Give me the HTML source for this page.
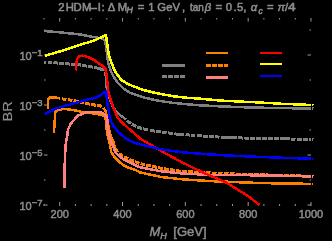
<!DOCTYPE html>
<html><head><meta charset="utf-8"><style>
html,body{margin:0;padding:0;background:#000;width:332px;height:241px;overflow:hidden}
svg{display:block;will-change:transform}
</style></head><body><svg width="332" height="241" viewBox="0 0 332 241"><line x1="44.00" y1="206" x2="44.00" y2="204.0" stroke="#999999" stroke-width="1"/><line x1="44.00" y1="18" x2="44.00" y2="19.5" stroke="#999999" stroke-width="1"/><line x1="59.71" y1="206" x2="59.71" y2="202.0" stroke="#999999" stroke-width="1"/><line x1="59.71" y1="18" x2="59.71" y2="21.5" stroke="#999999" stroke-width="1"/><line x1="75.41" y1="206" x2="75.41" y2="204.0" stroke="#999999" stroke-width="1"/><line x1="75.41" y1="18" x2="75.41" y2="19.5" stroke="#999999" stroke-width="1"/><line x1="91.12" y1="206" x2="91.12" y2="204.0" stroke="#999999" stroke-width="1"/><line x1="91.12" y1="18" x2="91.12" y2="19.5" stroke="#999999" stroke-width="1"/><line x1="106.82" y1="206" x2="106.82" y2="204.0" stroke="#999999" stroke-width="1"/><line x1="106.82" y1="18" x2="106.82" y2="19.5" stroke="#999999" stroke-width="1"/><line x1="122.53" y1="206" x2="122.53" y2="202.0" stroke="#999999" stroke-width="1"/><line x1="122.53" y1="18" x2="122.53" y2="21.5" stroke="#999999" stroke-width="1"/><line x1="138.24" y1="206" x2="138.24" y2="204.0" stroke="#999999" stroke-width="1"/><line x1="138.24" y1="18" x2="138.24" y2="19.5" stroke="#999999" stroke-width="1"/><line x1="153.94" y1="206" x2="153.94" y2="204.0" stroke="#999999" stroke-width="1"/><line x1="153.94" y1="18" x2="153.94" y2="19.5" stroke="#999999" stroke-width="1"/><line x1="169.65" y1="206" x2="169.65" y2="204.0" stroke="#999999" stroke-width="1"/><line x1="169.65" y1="18" x2="169.65" y2="19.5" stroke="#999999" stroke-width="1"/><line x1="185.35" y1="206" x2="185.35" y2="202.0" stroke="#999999" stroke-width="1"/><line x1="185.35" y1="18" x2="185.35" y2="21.5" stroke="#999999" stroke-width="1"/><line x1="201.06" y1="206" x2="201.06" y2="204.0" stroke="#999999" stroke-width="1"/><line x1="201.06" y1="18" x2="201.06" y2="19.5" stroke="#999999" stroke-width="1"/><line x1="216.76" y1="206" x2="216.76" y2="204.0" stroke="#999999" stroke-width="1"/><line x1="216.76" y1="18" x2="216.76" y2="19.5" stroke="#999999" stroke-width="1"/><line x1="232.47" y1="206" x2="232.47" y2="204.0" stroke="#999999" stroke-width="1"/><line x1="232.47" y1="18" x2="232.47" y2="19.5" stroke="#999999" stroke-width="1"/><line x1="248.18" y1="206" x2="248.18" y2="202.0" stroke="#999999" stroke-width="1"/><line x1="248.18" y1="18" x2="248.18" y2="21.5" stroke="#999999" stroke-width="1"/><line x1="263.88" y1="206" x2="263.88" y2="204.0" stroke="#999999" stroke-width="1"/><line x1="263.88" y1="18" x2="263.88" y2="19.5" stroke="#999999" stroke-width="1"/><line x1="279.59" y1="206" x2="279.59" y2="204.0" stroke="#999999" stroke-width="1"/><line x1="279.59" y1="18" x2="279.59" y2="19.5" stroke="#999999" stroke-width="1"/><line x1="295.29" y1="206" x2="295.29" y2="204.0" stroke="#999999" stroke-width="1"/><line x1="295.29" y1="18" x2="295.29" y2="19.5" stroke="#999999" stroke-width="1"/><line x1="311.00" y1="206" x2="311.00" y2="202.0" stroke="#999999" stroke-width="1"/><line x1="311.00" y1="18" x2="311.00" y2="21.5" stroke="#999999" stroke-width="1"/><line x1="44" y1="205.00" x2="47.5" y2="205.00" stroke="#999999" stroke-width="1"/><line x1="311" y1="205.00" x2="307.5" y2="205.00" stroke="#999999" stroke-width="1"/><line x1="44" y1="180.00" x2="45.5" y2="180.00" stroke="#999999" stroke-width="1"/><line x1="311" y1="180.00" x2="309.5" y2="180.00" stroke="#999999" stroke-width="1"/><line x1="44" y1="155.00" x2="47.5" y2="155.00" stroke="#999999" stroke-width="1"/><line x1="311" y1="155.00" x2="307.5" y2="155.00" stroke="#999999" stroke-width="1"/><line x1="44" y1="130.00" x2="45.5" y2="130.00" stroke="#999999" stroke-width="1"/><line x1="311" y1="130.00" x2="309.5" y2="130.00" stroke="#999999" stroke-width="1"/><line x1="44" y1="105.00" x2="47.5" y2="105.00" stroke="#999999" stroke-width="1"/><line x1="311" y1="105.00" x2="307.5" y2="105.00" stroke="#999999" stroke-width="1"/><line x1="44" y1="80.00" x2="45.5" y2="80.00" stroke="#999999" stroke-width="1"/><line x1="311" y1="80.00" x2="309.5" y2="80.00" stroke="#999999" stroke-width="1"/><line x1="44" y1="55.00" x2="47.5" y2="55.00" stroke="#999999" stroke-width="1"/><line x1="311" y1="55.00" x2="307.5" y2="55.00" stroke="#999999" stroke-width="1"/><line x1="44" y1="30.00" x2="45.5" y2="30.00" stroke="#999999" stroke-width="1"/><line x1="311" y1="30.00" x2="309.5" y2="30.00" stroke="#999999" stroke-width="1"/><g><polyline points="44.0,31.0 56.0,32.0 68.0,33.2 80.0,34.4 89.0,36.2 97.0,37.7 102.0,38.4 104.5,40.0 105.8,45.0 106.8,52.0 107.5,58.0 108.5,64.0 111.0,71.5 114.0,77.5 117.5,82.5 124.0,88.8 130.0,92.8 142.6,97.1 155.3,100.2 172.2,102.8 184.8,104.1 200.0,105.3 221.0,106.4 242.0,107.2 270.0,107.9 313.5,108.6" fill="none" stroke="#808080" stroke-width="2.5" stroke-linejoin="round" shape-rendering="crispEdges"/><polyline points="44.3,62.0 45.0,62.0 45.9,62.1" fill="none" stroke="#808080" stroke-width="3" stroke-linejoin="round" shape-rendering="crispEdges"/><polyline points="47.8,62.2 52.0,62.6" fill="none" stroke="#808080" stroke-width="3" stroke-linejoin="round" shape-rendering="crispEdges"/><polyline points="53.4,62.7 57.8,63.1" fill="none" stroke="#808080" stroke-width="3" stroke-linejoin="round" shape-rendering="crispEdges"/><polyline points="59.3,63.2 63.7,63.6" fill="none" stroke="#808080" stroke-width="3" stroke-linejoin="round" shape-rendering="crispEdges"/><polyline points="65.2,63.7 69.7,64.1" fill="none" stroke="#808080" stroke-width="3" stroke-linejoin="round" shape-rendering="crispEdges"/><polyline points="71.2,64.2 75.6,64.5" fill="none" stroke="#808080" stroke-width="3" stroke-linejoin="round" shape-rendering="crispEdges"/><polyline points="77.3,64.7 79.9,64.9 81.0,65.1" fill="none" stroke="#808080" stroke-width="3" stroke-linejoin="round" shape-rendering="crispEdges"/><polyline points="82.3,65.3 87.2,66.2" fill="none" stroke="#808080" stroke-width="3" stroke-linejoin="round" shape-rendering="crispEdges"/><polyline points="88.1,66.3 93.0,67.2" fill="none" stroke="#808080" stroke-width="3" stroke-linejoin="round" shape-rendering="crispEdges"/><polyline points="94.3,67.4 94.9,67.5 103.6,69.9 104.2,70.7" fill="none" stroke="#808080" stroke-width="3" stroke-linejoin="round" shape-rendering="crispEdges"/><polyline points="150.0,130.4 151.0,130.6 154.8,131.1" fill="none" stroke="#808080" stroke-width="3" stroke-linejoin="round" shape-rendering="crispEdges"/><polyline points="156.0,131.3 160.0,131.8 160.8,131.9" fill="none" stroke="#808080" stroke-width="3" stroke-linejoin="round" shape-rendering="crispEdges"/><polyline points="162.0,132.1 166.6,132.7" fill="none" stroke="#808080" stroke-width="3" stroke-linejoin="round" shape-rendering="crispEdges"/><polyline points="168.2,132.9 173.0,133.6" fill="none" stroke="#808080" stroke-width="3" stroke-linejoin="round" shape-rendering="crispEdges"/><polyline points="174.4,133.8 177.2,134.2 183.8,134.7" fill="none" stroke="#808080" stroke-width="3" stroke-linejoin="round" shape-rendering="crispEdges"/><polyline points="185.5,134.8 190.0,135.1" fill="none" stroke="#808080" stroke-width="3" stroke-linejoin="round" shape-rendering="crispEdges"/><polyline points="191.4,135.2 195.4,135.5" fill="none" stroke="#808080" stroke-width="3" stroke-linejoin="round" shape-rendering="crispEdges"/><polyline points="197.2,135.6 201.6,136.0" fill="none" stroke="#808080" stroke-width="3" stroke-linejoin="round" shape-rendering="crispEdges"/><polyline points="203.0,136.1 205.0,136.2 207.8,136.4" fill="none" stroke="#808080" stroke-width="3" stroke-linejoin="round" shape-rendering="crispEdges"/><polyline points="209.1,136.5 213.7,136.7" fill="none" stroke="#808080" stroke-width="3" stroke-linejoin="round" shape-rendering="crispEdges"/><polyline points="215.3,136.8 219.5,137.1" fill="none" stroke="#808080" stroke-width="3" stroke-linejoin="round" shape-rendering="crispEdges"/><polyline points="220.7,137.2 221.1,137.2 236.8,137.8" fill="none" stroke="#808080" stroke-width="3" stroke-linejoin="round" shape-rendering="crispEdges"/><polyline points="238.0,137.8 242.2,138.0 243.0,138.0" fill="none" stroke="#808080" stroke-width="3" stroke-linejoin="round" shape-rendering="crispEdges"/><polyline points="244.3,138.0 249.2,138.2" fill="none" stroke="#808080" stroke-width="3" stroke-linejoin="round" shape-rendering="crispEdges"/><polyline points="250.2,138.2 255.0,138.3" fill="none" stroke="#808080" stroke-width="3" stroke-linejoin="round" shape-rendering="crispEdges"/><polyline points="256.2,138.3 260.8,138.4" fill="none" stroke="#808080" stroke-width="3" stroke-linejoin="round" shape-rendering="crispEdges"/><polyline points="262.0,138.4 266.9,138.5" fill="none" stroke="#808080" stroke-width="3" stroke-linejoin="round" shape-rendering="crispEdges"/><polyline points="268.0,138.6 270.0,138.6 272.8,138.7" fill="none" stroke="#808080" stroke-width="3" stroke-linejoin="round" shape-rendering="crispEdges"/><polyline points="274.0,138.7 278.8,138.8" fill="none" stroke="#808080" stroke-width="3" stroke-linejoin="round" shape-rendering="crispEdges"/><polyline points="280.0,138.8 289.8,139.0" fill="none" stroke="#808080" stroke-width="3" stroke-linejoin="round" shape-rendering="crispEdges"/><polyline points="290.8,139.0 295.5,139.1" fill="none" stroke="#808080" stroke-width="3" stroke-linejoin="round" shape-rendering="crispEdges"/><polyline points="296.9,139.2 301.6,139.3" fill="none" stroke="#808080" stroke-width="3" stroke-linejoin="round" shape-rendering="crispEdges"/><polyline points="303.0,139.3 307.8,139.4" fill="none" stroke="#808080" stroke-width="3" stroke-linejoin="round" shape-rendering="crispEdges"/><polyline points="309.2,139.4 313.5,139.5" fill="none" stroke="#808080" stroke-width="3" stroke-linejoin="round" shape-rendering="crispEdges"/><polyline points="105.2,72.0 105.5,72.4 106.1,80.0 106.8,88.0 109.0,97.0 112.5,106.0 116.0,111.0 120.0,115.0 124.0,118.0 126.0,119.7" fill="none" stroke="#808080" stroke-width="2.5" stroke-linejoin="round" shape-rendering="crispEdges"/><polyline points="127.2,120.6 128.0,121.3 131.0,123.6" fill="none" stroke="#808080" stroke-width="3" stroke-linejoin="round" shape-rendering="crispEdges"/><polyline points="131.9,124.3 132.0,124.4 136.3,126.4" fill="none" stroke="#808080" stroke-width="3" stroke-linejoin="round" shape-rendering="crispEdges"/><polyline points="137.3,126.9 138.0,127.2 141.9,128.4" fill="none" stroke="#808080" stroke-width="3" stroke-linejoin="round" shape-rendering="crispEdges"/><polyline points="143.1,128.7 144.0,129.0 147.7,129.9" fill="none" stroke="#808080" stroke-width="3" stroke-linejoin="round" shape-rendering="crispEdges"/><polyline points="148.9,130.1 149.0,130.1" fill="none" stroke="#808080" stroke-width="3" stroke-linejoin="round" shape-rendering="crispEdges"/><polyline points="53.9,133.0 55.3,112.0 57.9,109.8 64.2,108.9 71.6,109.9 75.0,110.4 84.5,112.5 96.9,113.8 103.1,115.5 105.6,117.5 106.3,127.0 107.3,134.0 109.5,143.0 111.3,152.0 114.6,157.1 119.1,161.7 123.7,165.3 128.2,167.6 135.5,170.0 140.0,172.4 161.1,177.0 182.2,179.3 210.0,181.1 226.1,181.7 247.2,182.6 276.1,183.4 313.5,183.9" fill="none" stroke="#ff8000" stroke-width="2.5" stroke-linejoin="round" shape-rendering="crispEdges"/><polyline points="47.9,109.2 47.9,99.7 50.0,97.6 50.0,97.6 55.8,97.6 60.3,98.5" fill="none" stroke="#ff8000" stroke-width="2.5" stroke-linejoin="round" shape-rendering="crispEdges"/><polyline points="61.8,98.8 66.5,99.6" fill="none" stroke="#ff8000" stroke-width="3" stroke-linejoin="round" shape-rendering="crispEdges"/><polyline points="67.7,99.7 72.5,100.4" fill="none" stroke="#ff8000" stroke-width="3" stroke-linejoin="round" shape-rendering="crispEdges"/><polyline points="73.6,100.6 75.0,100.8 78.3,101.6" fill="none" stroke="#ff8000" stroke-width="3" stroke-linejoin="round" shape-rendering="crispEdges"/><polyline points="79.5,101.9 84.2,103.0" fill="none" stroke="#ff8000" stroke-width="3" stroke-linejoin="round" shape-rendering="crispEdges"/><polyline points="85.3,103.3 90.0,104.2" fill="none" stroke="#ff8000" stroke-width="3" stroke-linejoin="round" shape-rendering="crispEdges"/><polyline points="91.2,104.4 95.9,105.3" fill="none" stroke="#ff8000" stroke-width="3" stroke-linejoin="round" shape-rendering="crispEdges"/><polyline points="97.1,105.5 100.0,105.6 101.7,106.6" fill="none" stroke="#ff8000" stroke-width="3" stroke-linejoin="round" shape-rendering="crispEdges"/><polyline points="102.7,107.2 103.0,107.3" fill="none" stroke="#ff8000" stroke-width="3" stroke-linejoin="round" shape-rendering="crispEdges"/><polyline points="103.6,108.1 105.5,110.8 106.3,114.5 107.8,121.7 108.5,127.0 110.0,134.0 113.8,143.0 115.0,148.0 118.0,152.0" fill="none" stroke="#ff8000" stroke-width="2.5" stroke-linejoin="round" shape-rendering="crispEdges"/><polyline points="119.0,153.4 119.1,153.5 122.9,156.1" fill="none" stroke="#ff8000" stroke-width="3" stroke-linejoin="round" shape-rendering="crispEdges"/><polyline points="123.9,156.8 128.2,158.9 128.2,158.9" fill="none" stroke="#ff8000" stroke-width="3" stroke-linejoin="round" shape-rendering="crispEdges"/><polyline points="129.3,159.4 133.7,161.2 133.8,161.2" fill="none" stroke="#ff8000" stroke-width="3" stroke-linejoin="round" shape-rendering="crispEdges"/><polyline points="134.9,161.6 139.4,163.3" fill="none" stroke="#ff8000" stroke-width="3" stroke-linejoin="round" shape-rendering="crispEdges"/><polyline points="140.5,163.6 145.2,164.7" fill="none" stroke="#ff8000" stroke-width="3" stroke-linejoin="round" shape-rendering="crispEdges"/><polyline points="146.4,165.0 151.1,166.0" fill="none" stroke="#ff8000" stroke-width="3" stroke-linejoin="round" shape-rendering="crispEdges"/><polyline points="152.2,166.3 156.9,167.3" fill="none" stroke="#ff8000" stroke-width="3" stroke-linejoin="round" shape-rendering="crispEdges"/><polyline points="158.1,167.6 161.1,168.3 162.8,168.5" fill="none" stroke="#ff8000" stroke-width="3" stroke-linejoin="round" shape-rendering="crispEdges"/><polyline points="164.0,168.7 168.7,169.4" fill="none" stroke="#ff8000" stroke-width="3" stroke-linejoin="round" shape-rendering="crispEdges"/><polyline points="169.9,169.6 174.7,170.3" fill="none" stroke="#ff8000" stroke-width="3" stroke-linejoin="round" shape-rendering="crispEdges"/><polyline points="175.9,170.5 180.6,171.2" fill="none" stroke="#ff8000" stroke-width="3" stroke-linejoin="round" shape-rendering="crispEdges"/><polyline points="181.8,171.3 182.2,171.4 186.6,171.6" fill="none" stroke="#ff8000" stroke-width="3" stroke-linejoin="round" shape-rendering="crispEdges"/><polyline points="187.8,171.7 192.6,172.0" fill="none" stroke="#ff8000" stroke-width="3" stroke-linejoin="round" shape-rendering="crispEdges"/><polyline points="193.8,172.1 198.6,172.3" fill="none" stroke="#ff8000" stroke-width="3" stroke-linejoin="round" shape-rendering="crispEdges"/><polyline points="199.8,172.4 204.5,172.7" fill="none" stroke="#ff8000" stroke-width="3" stroke-linejoin="round" shape-rendering="crispEdges"/><polyline points="205.7,172.7 210.5,172.9" fill="none" stroke="#ff8000" stroke-width="3" stroke-linejoin="round" shape-rendering="crispEdges"/><polyline points="211.7,173.0 216.5,173.2" fill="none" stroke="#ff8000" stroke-width="3" stroke-linejoin="round" shape-rendering="crispEdges"/><polyline points="217.7,173.2 222.5,173.4" fill="none" stroke="#ff8000" stroke-width="3" stroke-linejoin="round" shape-rendering="crispEdges"/><polyline points="223.7,173.5 226.1,173.6 228.5,173.7" fill="none" stroke="#ff8000" stroke-width="3" stroke-linejoin="round" shape-rendering="crispEdges"/><polyline points="229.7,173.7 234.5,173.9" fill="none" stroke="#ff8000" stroke-width="3" stroke-linejoin="round" shape-rendering="crispEdges"/><polyline points="235.7,174.0 240.5,174.1" fill="none" stroke="#ff8000" stroke-width="3" stroke-linejoin="round" shape-rendering="crispEdges"/><polyline points="241.7,174.2 246.5,174.4" fill="none" stroke="#ff8000" stroke-width="3" stroke-linejoin="round" shape-rendering="crispEdges"/><polyline points="247.7,174.4 252.5,174.6" fill="none" stroke="#ff8000" stroke-width="3" stroke-linejoin="round" shape-rendering="crispEdges"/><polyline points="253.7,174.6 258.5,174.7" fill="none" stroke="#ff8000" stroke-width="3" stroke-linejoin="round" shape-rendering="crispEdges"/><polyline points="259.7,174.8 264.5,174.9" fill="none" stroke="#ff8000" stroke-width="3" stroke-linejoin="round" shape-rendering="crispEdges"/><polyline points="265.7,174.9 270.5,175.1" fill="none" stroke="#ff8000" stroke-width="3" stroke-linejoin="round" shape-rendering="crispEdges"/><polyline points="271.7,175.1 275.0,175.2 276.5,175.2" fill="none" stroke="#ff8000" stroke-width="3" stroke-linejoin="round" shape-rendering="crispEdges"/><polyline points="277.7,175.3 282.5,175.4" fill="none" stroke="#ff8000" stroke-width="3" stroke-linejoin="round" shape-rendering="crispEdges"/><polyline points="283.7,175.4 288.5,175.6" fill="none" stroke="#ff8000" stroke-width="3" stroke-linejoin="round" shape-rendering="crispEdges"/><polyline points="289.7,175.6 294.5,175.8" fill="none" stroke="#ff8000" stroke-width="3" stroke-linejoin="round" shape-rendering="crispEdges"/><polyline points="295.7,175.8 300.5,175.9" fill="none" stroke="#ff8000" stroke-width="3" stroke-linejoin="round" shape-rendering="crispEdges"/><polyline points="301.7,176.0 306.5,176.1" fill="none" stroke="#ff8000" stroke-width="3" stroke-linejoin="round" shape-rendering="crispEdges"/><polyline points="307.7,176.1 312.5,176.3" fill="none" stroke="#ff8000" stroke-width="3" stroke-linejoin="round" shape-rendering="crispEdges"/><polyline points="64.5,188.2 64.8,160.0 65.8,143.4 67.4,135.0 67.9,129.8 70.6,124.0 75.0,118.8 78.2,115.5 86.9,112.2 96.9,111.9 103.1,113.0 105.6,115.5 107.0,118.0 107.6,127.0 108.9,135.0 111.5,143.0 115.5,152.0 117.3,154.4 122.8,158.9 128.2,161.7 133.7,164.4 140.0,167.3 161.1,171.3 182.2,173.5 210.0,174.9 255.0,175.3 297.0,176.0 313.5,176.5" fill="none" stroke="#ff8080" stroke-width="2.5" stroke-linejoin="round" shape-rendering="crispEdges"/><polyline points="76.1,70.5 76.3,63.0 77.0,59.5 78.6,56.6 82.8,55.6 88.7,57.5 94.9,60.6 101.1,64.9 105.3,68.7 106.5,73.7 107.1,80.0 108.2,90.5 109.8,96.9 112.8,106.0 117.4,117.0 120.5,121.0 125.3,125.5 134.9,133.9 140.0,138.5 161.1,151.0 182.2,162.5 203.3,172.7 226.1,182.5 246.9,195.3 259.5,205.0" fill="none" stroke="#ff0000" stroke-width="2.5" stroke-linejoin="round" shape-rendering="crispEdges"/><polyline points="45.0,55.7 63.7,50.3 79.0,45.2 88.5,42.2 96.0,39.8 101.0,37.4 105.9,35.0 107.2,44.0 108.8,55.0 111.4,62.5 115.1,71.6 121.4,80.0 126.6,83.2 130.2,85.0 142.6,89.8 155.3,92.9 172.2,96.1 184.8,97.6 200.0,98.7 221.0,100.6 242.2,101.7 260.0,102.5 285.3,104.0 313.5,105.0" fill="none" stroke="#ffff00" stroke-width="2.5" stroke-linejoin="round" shape-rendering="crispEdges"/><polyline points="44.7,114.0 55.8,108.7 66.4,105.5 75.0,103.0 84.5,100.5 96.9,97.2 101.3,94.6 106.0,91.0 106.9,98.7 107.8,106.0 108.7,111.0 109.6,117.0 110.6,121.0 113.7,126.2 118.7,132.5 126.2,138.7 133.6,142.5 140.0,144.3 161.1,149.3 182.2,152.3 205.0,154.1 226.1,155.4 247.2,156.4 275.0,157.5 313.5,158.8" fill="none" stroke="#0000ff" stroke-width="2.5" stroke-linejoin="round" shape-rendering="crispEdges"/></g><rect x="311" y="24" width="1" height="176" fill="#000" shape-rendering="crispEdges"/><line x1="162" y1="65.5" x2="185" y2="65.5" stroke="#808080" stroke-width="3" shape-rendering="crispEdges"/><line x1="162" y1="76.5" x2="185" y2="76.5" stroke="#808080" stroke-width="3" shape-rendering="crispEdges" stroke-dasharray="5,1"/><line x1="206" y1="53" x2="228" y2="53" stroke="#ff8000" stroke-width="2" shape-rendering="crispEdges"/><line x1="206" y1="65.5" x2="228" y2="65.5" stroke="#ff8000" stroke-width="3" shape-rendering="crispEdges" stroke-dasharray="4.8,1.2"/><line x1="206" y1="77.5" x2="228" y2="77.5" stroke="#ff8080" stroke-width="3" shape-rendering="crispEdges"/><line x1="260" y1="53" x2="282" y2="53" stroke="#ff0000" stroke-width="2" shape-rendering="crispEdges"/><line x1="260" y1="64" x2="282" y2="64" stroke="#ffff00" stroke-width="2" shape-rendering="crispEdges"/><line x1="260" y1="76" x2="282" y2="76" stroke="#0000ff" stroke-width="2" shape-rendering="crispEdges"/><text x="59.7" y="218" font-family="Liberation Sans, sans-serif" font-size="11" fill="#8c8c8c" stroke="#8c8c8c" stroke-width="0.5" text-anchor="middle">200</text><text x="122.5" y="218" font-family="Liberation Sans, sans-serif" font-size="11" fill="#8c8c8c" stroke="#8c8c8c" stroke-width="0.5" text-anchor="middle">400</text><text x="185.4" y="218" font-family="Liberation Sans, sans-serif" font-size="11" fill="#8c8c8c" stroke="#8c8c8c" stroke-width="0.5" text-anchor="middle">600</text><text x="248.2" y="218" font-family="Liberation Sans, sans-serif" font-size="11" fill="#8c8c8c" stroke="#8c8c8c" stroke-width="0.5" text-anchor="middle">800</text><text x="311.0" y="218" font-family="Liberation Sans, sans-serif" font-size="11" fill="#8c8c8c" stroke="#8c8c8c" stroke-width="0.5" text-anchor="middle">1000</text><text x="19.5" y="59.6" font-family="Liberation Sans, sans-serif" font-size="11" fill="#8c8c8c" stroke="#8c8c8c" stroke-width="0.5">10<tspan font-size="9.5" dy="-4">−1</tspan></text><text x="19.5" y="109.6" font-family="Liberation Sans, sans-serif" font-size="11" fill="#8c8c8c" stroke="#8c8c8c" stroke-width="0.5">10<tspan font-size="9.5" dy="-4">−3</tspan></text><text x="19.5" y="159.6" font-family="Liberation Sans, sans-serif" font-size="11" fill="#8c8c8c" stroke="#8c8c8c" stroke-width="0.5">10<tspan font-size="9.5" dy="-4">−5</tspan></text><text x="19.5" y="209.6" font-family="Liberation Sans, sans-serif" font-size="11" fill="#8c8c8c" stroke="#8c8c8c" stroke-width="0.5">10<tspan font-size="9.5" dy="-4">−7</tspan></text><text x="0" y="0" transform="translate(58.3,11.0) scale(1.0,1)" font-family="Liberation Sans, sans-serif" font-size="11.3" fill="#8c8c8c" stroke="#8c8c8c" stroke-width="0.55">2</text><text x="0" y="0" transform="translate(65.7,11.0) scale(1.0,1)" font-family="Liberation Sans, sans-serif" font-size="11.3" fill="#8c8c8c" stroke="#8c8c8c" stroke-width="0.55">H</text><text x="0" y="0" transform="translate(73.6,11.0) scale(1.0,1)" font-family="Liberation Sans, sans-serif" font-size="11.3" fill="#8c8c8c" stroke="#8c8c8c" stroke-width="0.55">D</text><text x="0" y="0" transform="translate(81.9,11.0) scale(1.0,1)" font-family="Liberation Sans, sans-serif" font-size="11.3" fill="#8c8c8c" stroke="#8c8c8c" stroke-width="0.55">M</text><text x="0" y="0" transform="translate(89.0,11.0) scale(1.25,1)" font-family="Liberation Sans, sans-serif" font-size="11.3" fill="#8c8c8c" stroke="#8c8c8c" stroke-width="0.55">–</text><text x="0" y="0" transform="translate(97.8,11.0) scale(1.0,1)" font-family="Liberation Sans, sans-serif" font-size="11.3" fill="#8c8c8c" stroke="#8c8c8c" stroke-width="0.55">I</text><text x="0" y="0" transform="translate(101.5,11.0) scale(1.0,1)" font-family="Liberation Sans, sans-serif" font-size="11.3" fill="#8c8c8c" stroke="#8c8c8c" stroke-width="0.55">:</text><text x="0" y="0" transform="translate(107.8,11.0) scale(1.0,1)" font-family="Liberation Sans, sans-serif" font-size="11.3" fill="#8c8c8c" stroke="#8c8c8c" stroke-width="0.55">Δ</text><text x="0" y="0" transform="translate(117.7,11.0) scale(1.0,1)" font-family="Liberation Sans, sans-serif" font-size="11.3" fill="#8c8c8c" stroke="#8c8c8c" stroke-width="0.55">M</text><text x="0" y="0" transform="translate(126.5,12.9) scale(1.0,1)" font-family="Liberation Sans, sans-serif" font-size="8.8" fill="#8c8c8c" stroke="#8c8c8c" stroke-width="0.55" font-style="italic">H</text><text x="0" y="0" transform="translate(137.8,11.0) scale(1.0,1)" font-family="Liberation Sans, sans-serif" font-size="11.3" fill="#8c8c8c" stroke="#8c8c8c" stroke-width="0.55">=</text><text x="0" y="0" transform="translate(148.3,11.0) scale(1.0,1)" font-family="Liberation Sans, sans-serif" font-size="11.3" fill="#8c8c8c" stroke="#8c8c8c" stroke-width="0.55">1</text><text x="0" y="0" transform="translate(157.3,11.0) scale(1.0,1)" font-family="Liberation Sans, sans-serif" font-size="11.3" fill="#8c8c8c" stroke="#8c8c8c" stroke-width="0.55">G</text><text x="0" y="0" transform="translate(166.2,11.0) scale(1.0,1)" font-family="Liberation Sans, sans-serif" font-size="11.3" fill="#8c8c8c" stroke="#8c8c8c" stroke-width="0.55">e</text><text x="0" y="0" transform="translate(172.5,11.0) scale(1.0,1)" font-family="Liberation Sans, sans-serif" font-size="11.3" fill="#8c8c8c" stroke="#8c8c8c" stroke-width="0.55">V</text><text x="0" y="0" transform="translate(182.1,11.0) scale(1.0,1)" font-family="Liberation Sans, sans-serif" font-size="11.3" fill="#8c8c8c" stroke="#8c8c8c" stroke-width="0.55">,</text><text x="0" y="0" transform="translate(204.8,11.0) scale(1.0,1)" font-family="Liberation Sans, sans-serif" font-size="11.3" fill="#8c8c8c" stroke="#8c8c8c" stroke-width="0.55" font-style="italic">β</text><text x="0" y="0" transform="translate(215.4,11.0) scale(1.0,1)" font-family="Liberation Sans, sans-serif" font-size="11.3" fill="#8c8c8c" stroke="#8c8c8c" stroke-width="0.55">=</text><text x="0" y="0" transform="translate(225.8,11.0) scale(1.0,1)" font-family="Liberation Sans, sans-serif" font-size="11.3" fill="#8c8c8c" stroke="#8c8c8c" stroke-width="0.55">0</text><text x="0" y="0" transform="translate(233.4,11.0) scale(1.0,1)" font-family="Liberation Sans, sans-serif" font-size="11.3" fill="#8c8c8c" stroke="#8c8c8c" stroke-width="0.55">.</text><text x="0" y="0" transform="translate(237.0,11.0) scale(1.0,1)" font-family="Liberation Sans, sans-serif" font-size="11.3" fill="#8c8c8c" stroke="#8c8c8c" stroke-width="0.55">5</text><text x="0" y="0" transform="translate(243.3,11.0) scale(1.0,1)" font-family="Liberation Sans, sans-serif" font-size="11.3" fill="#8c8c8c" stroke="#8c8c8c" stroke-width="0.55">,</text><text x="0" y="0" transform="translate(250.8,11.0) scale(1.0,1)" font-family="Liberation Sans, sans-serif" font-size="11.3" fill="#8c8c8c" stroke="#8c8c8c" stroke-width="0.55" font-style="italic">α</text><text x="0" y="0" transform="translate(258.5,13.6) scale(1.0,1)" font-family="Liberation Sans, sans-serif" font-size="8.3" fill="#8c8c8c" stroke="#8c8c8c" stroke-width="0.55" font-style="italic">c</text><text x="0" y="0" transform="translate(266.9,11.0) scale(1.0,1)" font-family="Liberation Sans, sans-serif" font-size="11.3" fill="#8c8c8c" stroke="#8c8c8c" stroke-width="0.55">=</text><text x="0" y="0" transform="translate(277.4,11.0) scale(1.0,1)" font-family="Liberation Sans, sans-serif" font-size="11.3" fill="#8c8c8c" stroke="#8c8c8c" stroke-width="0.55" font-style="italic">π</text><text x="0" y="0" transform="translate(285.0,11.0) scale(1.0,1)" font-family="Liberation Sans, sans-serif" font-size="11.3" fill="#8c8c8c" stroke="#8c8c8c" stroke-width="0.55">/</text><text x="0" y="0" transform="translate(287.9,11.0) scale(1.22,1)" font-family="Liberation Sans, sans-serif" font-size="11.3" fill="#8c8c8c" stroke="#8c8c8c" stroke-width="0.55">4</text><text x="190.1" y="11" font-family="Liberation Sans, sans-serif" font-size="11.3" fill="#8c8c8c" stroke="#8c8c8c" stroke-width="0.6" textLength="13.8" lengthAdjust="spacingAndGlyphs">tan</text><text x="149.5" y="235.7" font-family="Liberation Sans, sans-serif" font-size="13" fill="#8c8c8c" stroke="#8c8c8c" stroke-width="0.5" font-style="italic">M</text><text x="160.3" y="238.7" font-family="Liberation Sans, sans-serif" font-size="9" fill="#8c8c8c" stroke="#8c8c8c" stroke-width="0.5" font-style="italic">H</text><text x="173.3" y="235.7" font-family="Liberation Sans, sans-serif" font-size="13" fill="#8c8c8c" stroke="#8c8c8c" stroke-width="0.5">[GeV]</text><text x="0" y="0" font-family="Liberation Sans, sans-serif" font-size="13" fill="#8c8c8c" stroke="#8c8c8c" stroke-width="0.2" text-anchor="middle" transform="translate(12.4,111.4) rotate(-90) scale(1.12,1)">BR</text></svg></body></html>
